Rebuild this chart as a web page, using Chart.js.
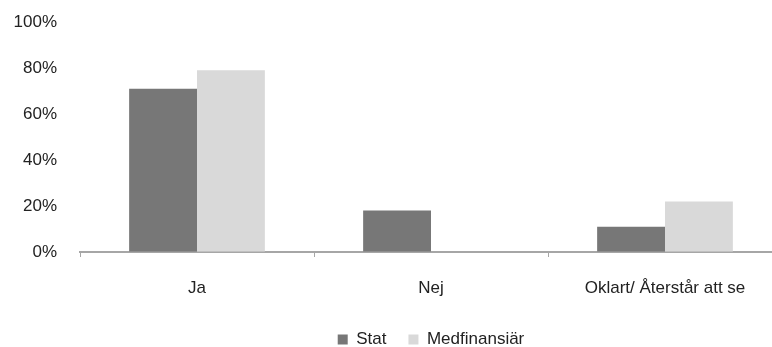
<!DOCTYPE html>
<html>
<head>
<meta charset="utf-8">
<script src="https://cdn.jsdelivr.net/npm/chart.js@4/dist/chart.umd.min.js"></script>
<style>
  html, body { margin: 0; padding: 0; background: #fff; overflow: hidden; }
  #wrap { width: 782px; height: 358px; }
</style>
</head>
<body>
<div id="wrap"><canvas id="chart" width="782" height="358"></canvas></div>
<script>
// svar per kategori, andel i procent
var categories = ['Ja', 'Nej', 'Oklart/ Återstår att se'];
var statValues = [71, 18, 11];
var medfinValues = [79, 0, 22];
var yTicks = [0, 20, 40, 60, 80, 100];

var textFont = { family: "'Liberation Sans', Arial, sans-serif", size: 17 };

var config = {
    type: 'bar',
    data: {
        labels: categories,
        datasets: [{
            label: 'Stat',
            data: statValues,
            backgroundColor: '#777777',
            borderWidth: 0,
            barPercentage: 1,
            categoryPercentage: 0.58
        }, {
            label: 'Medfinansiär',
            data: medfinValues,
            backgroundColor: '#d9d9d9',
            borderWidth: 0,
            barPercentage: 1,
            categoryPercentage: 0.58
        }]
    },
    options: {
        responsive: false,
        animation: false,
        layout: { padding: { top: 22, left: 0, right: 0, bottom: 0 } },
        plugins: {
            tooltip: { enabled: false },
            legend: {
                position: 'bottom',
                fullSize: false,
                labels: {
                    boxWidth: 10,
                    boxHeight: 10,
                    padding: 22,
                    color: '#222',
                    font: textFont
                }
            }
        },
        scales: {
            x: {
                offset: true,
                grid: {
                    display: true,
                    drawOnChartArea: false,
                    drawTicks: true,
                    tickLength: 5,
                    color: '#a6a6a6',
                    offset: true
                },
                border: { display: true, color: '#a6a6a6', width: 2 },
                ticks: { color: '#222', font: textFont, padding: 21, maxRotation: 0 },
                afterFit: function(scale) { scale.height = 57; }
            },
            y: {
                min: 0,
                max: 100,
                afterBuildTicks: function(scale) {
                    scale.ticks = yTicks.map(function(v) { return { value: v }; });
                },
                grid: {
                    display: true,
                    drawOnChartArea: false,
                    drawTicks: true,
                    tickLength: 20,
                    tickColor: 'rgba(0,0,0,0)'
                },
                border: { display: false },
                ticks: {
                    color: '#222',
                    font: textFont,
                    padding: 3,
                    callback: function(v) { return v + '%'; }
                },
                afterFit: function(scale) { scale.width = 80; }
            }
        }
    }
};

window.onload = function() {
    var ctx = document.getElementById('chart').getContext('2d');
    window.myBar = new Chart(ctx, config);
};
</script>
</body>
</html>
